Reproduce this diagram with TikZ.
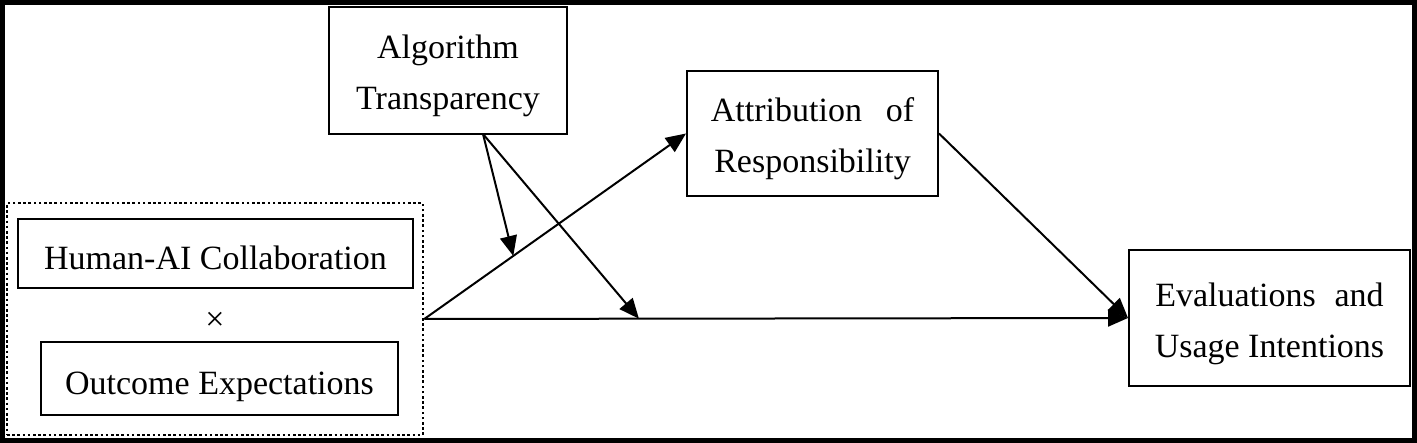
\documentclass[tikz,border=0pt]{standalone}
\usepackage{fontspec}
\setmainfont{Liberation Serif}
\usetikzlibrary{arrows.meta}
\tikzstyle{modelBox}=[shape = rectangle, draw, line width = 2pt, inner sep = 0pt, align = center, font = \fontsize{34}{51}\selectfont, text height = 32pt, text depth = 0pt]
\tikzstyle{modelBoxTwo}=[modelBox, text height = 83pt, text depth = 4pt]
\tikzstyle{groupBox}=[shape = rectangle, draw, line width = 2.6pt, dash pattern = on 2.6pt off 2.6pt, inner sep = 0pt]
\tikzstyle{pathStyle}=[line width = 2pt, -{Triangle[length = 20pt, width = 17pt]}]

\begin{document}
\begin{tikzpicture}[x = 1pt, y = -1pt]
\useasboundingbox (0,0) rectangle (1417,443);
\draw[line width = 5pt] (2.5,2.5) rectangle (1414.5,440.5);
\node[groupBox, minimum width = 416pt, minimum height = 232pt] (grp) at (215,319) {};
\node[modelBox, minimum width = 395pt, minimum height = 69pt] (hai) at (215.5,253.5) {Human-AI Collaboration};
\node[font = \fontsize{34}{40}\selectfont] (times) at (215,321) {×};
\node[modelBox, minimum width = 357pt, minimum height = 73pt] (outc) at (219.5,378.5) {Outcome Expectations};
\node[modelBoxTwo, minimum width = 238pt, minimum height = 127pt] (algo) at (448,70.5) {Algorithm\\Transparency};
\node[modelBoxTwo, minimum width = 251pt, minimum height = 125pt] (attr) at (812.5,133.5) {Attribution\hspace{0.45em} of\\Responsibility};
\node[modelBoxTwo, minimum width = 281pt, minimum height = 136pt] (eval) at (1269.5,318) {Evaluations\hspace{0.3em} and\\Usage Intentions};
\coordinate (algoOut) at (483,134);
% paths
\draw[pathStyle] (grp.east) -- coordinate[pos = 0.34] (onA) (attr.west);
\draw[pathStyle] (grp.east) -- coordinate[pos = 0.305] (onC) (eval.west);
\draw[pathStyle] (attr.east) -- (eval.west);
\draw[pathStyle] (algoOut) -- (onA);
\draw[pathStyle] (algoOut) -- (onC);
\end{tikzpicture}
\end{document}
